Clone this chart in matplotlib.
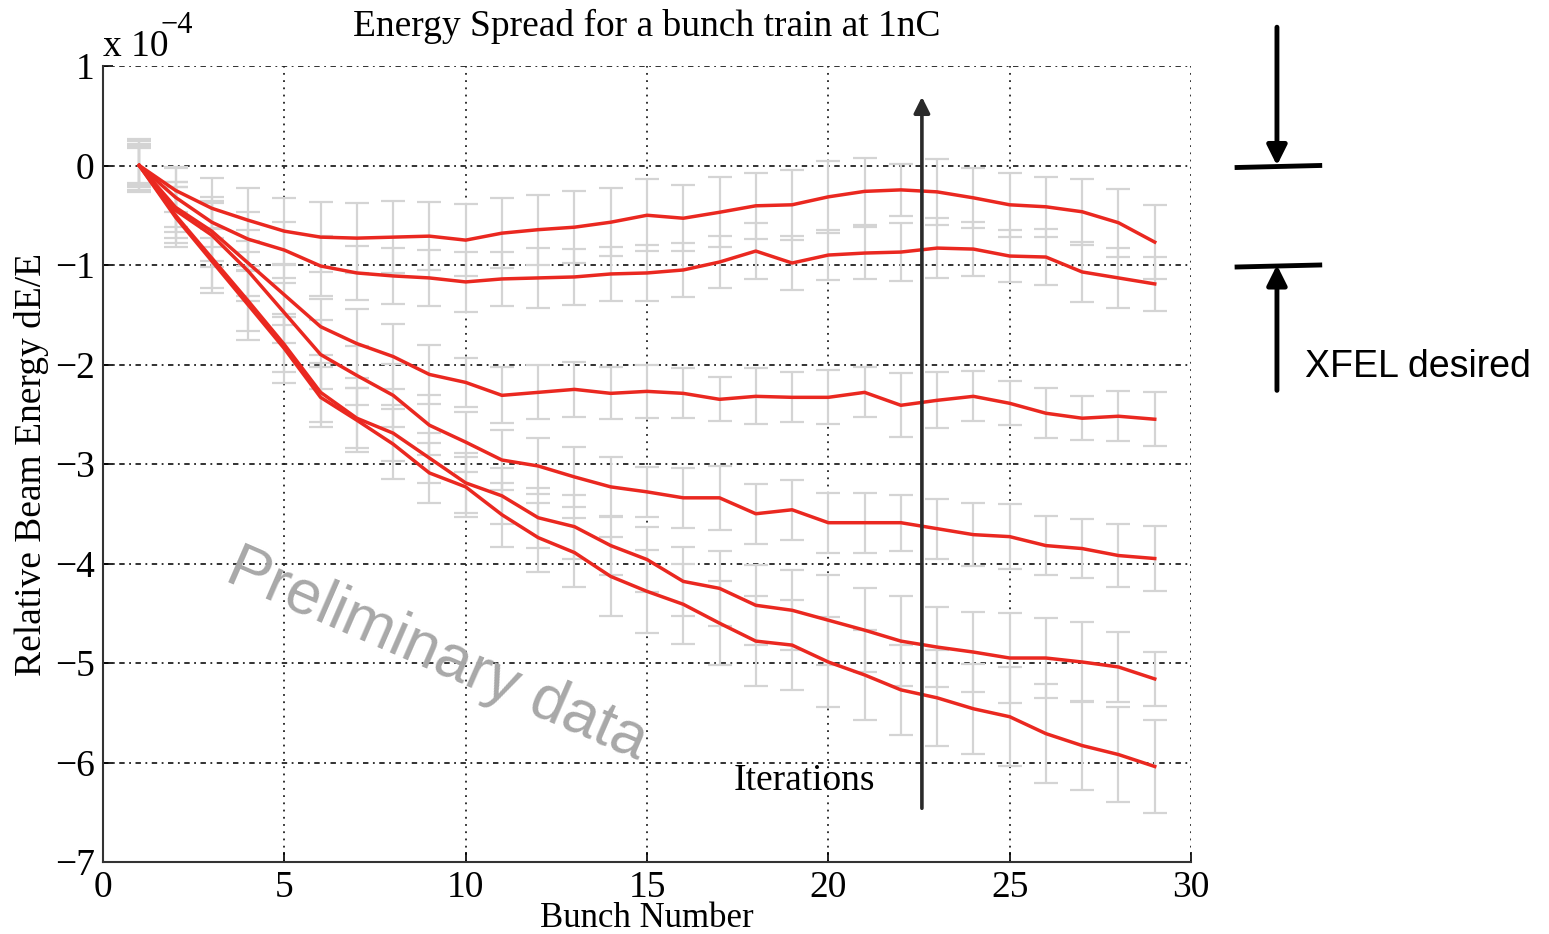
import numpy as np
import matplotlib
matplotlib.use("Agg")
import matplotlib.pyplot as plt

plt.rcParams['font.family'] = ['Liberation Serif', 'DejaVu Serif']

# bunch number along the train
bunch = np.arange(1, 30)

# relative energy deviation (x 1e-4), one curve per iteration (last iteration first)
it6 = [0, -0.25, -0.43, -0.55, -0.66, -0.72, -0.73, -0.72, -0.71, -0.75, -0.68, -0.645, -0.62, -0.57, -0.50,
       -0.53, -0.47, -0.405, -0.395, -0.315, -0.26, -0.245, -0.265, -0.325, -0.395, -0.415, -0.465, -0.575, -0.77]
it5 = [0, -0.32, -0.57, -0.74, -0.85, -1.01, -1.08, -1.11, -1.13, -1.17, -1.14, -1.13, -1.12, -1.09, -1.08,
       -1.05, -0.97, -0.86, -0.98, -0.90, -0.88, -0.87, -0.83, -0.84, -0.91, -0.92, -1.07, -1.13, -1.19]
it4 = [0, -0.42, -0.66, -0.98, -1.30, -1.62, -1.79, -1.92, -2.10, -2.18, -2.31, -2.28, -2.25, -2.29, -2.27,
       -2.29, -2.35, -2.32, -2.33, -2.33, -2.28, -2.41, -2.36, -2.32, -2.39, -2.49, -2.54, -2.52, -2.55]
it3 = [0, -0.45, -0.70, -1.06, -1.48, -1.90, -2.11, -2.31, -2.61, -2.78, -2.96, -3.02, -3.13, -3.23, -3.28,
       -3.34, -3.34, -3.50, -3.46, -3.59, -3.59, -3.59, -3.65, -3.71, -3.73, -3.82, -3.85, -3.92, -3.95]
it2 = [0, -0.50, -0.93, -1.36, -1.80, -2.28, -2.54, -2.69, -2.94, -3.19, -3.32, -3.54, -3.63, -3.82, -3.96,
       -4.18, -4.25, -4.42, -4.47, -4.57, -4.67, -4.78, -4.84, -4.89, -4.95, -4.95, -4.99, -5.04, -5.16]
it1 = [0, -0.52, -0.96, -1.40, -1.84, -2.33, -2.56, -2.80, -3.09, -3.23, -3.51, -3.74, -3.89, -4.13, -4.28,
       -4.41, -4.60, -4.78, -4.82, -4.99, -5.12, -5.27, -5.35, -5.46, -5.54, -5.71, -5.83, -5.92, -6.04]

# rms spread per bunch (x 1e-4)
err6 = [0.27, 0.22, 0.30, 0.32, 0.33, 0.35, 0.35, 0.36, 0.34, 0.36, 0.35, 0.35, 0.36, 0.34, 0.36,
        0.33, 0.35, 0.33, 0.35, 0.36, 0.34, 0.26, 0.33, 0.30, 0.32, 0.30, 0.33, 0.34, 0.37]
err5 = [0.22, 0.30, 0.25, 0.27, 0.28, 0.30, 0.27, 0.28, 0.28, 0.30, 0.27, 0.30, 0.28, 0.27, 0.28,
        0.27, 0.26, 0.28, 0.27, 0.25, 0.26, 0.29, 0.30, 0.27, 0.26, 0.28, 0.30, 0.30, 0.27]
err4 = [0.18, 0.25, 0.30, 0.33, 0.30, 0.28, 0.35, 0.33, 0.30, 0.25, 0.28, 0.27, 0.28, 0.26, 0.27,
        0.25, 0.22, 0.28, 0.25, 0.27, 0.25, 0.32, 0.28, 0.25, 0.22, 0.25, 0.22, 0.25, 0.27]
err3 = [0.20, 0.28, 0.32, 0.30, 0.30, 0.35, 0.30, 0.32, 0.30, 0.30, 0.30, 0.28, 0.30, 0.30, 0.25,
        0.30, 0.32, 0.30, 0.30, 0.30, 0.30, 0.28, 0.30, 0.32, 0.33, 0.30, 0.30, 0.32, 0.33]
err2 = [0.20, 0.28, 0.30, 0.30, 0.28, 0.30, 0.30, 0.28, 0.25, 0.30, 0.28, 0.30, 0.32, 0.30, 0.33,
        0.35, 0.38, 0.40, 0.40, 0.45, 0.42, 0.45, 0.40, 0.40, 0.45, 0.40, 0.40, 0.35, 0.27]
err1 = [0.25, 0.30, 0.32, 0.35, 0.35, 0.30, 0.32, 0.35, 0.30, 0.30, 0.32, 0.35, 0.35, 0.40, 0.42,
        0.40, 0.42, 0.45, 0.45, 0.45, 0.45, 0.45, 0.48, 0.45, 0.50, 0.50, 0.45, 0.48, 0.47]

curves = [it1, it2, it3, it4, it5, it6]
errors = [err1, err2, err3, err4, err5, err6]

fig = plt.figure(figsize=(15.49, 9.34), dpi=100)
ax = fig.add_axes([103/1549, 72/934, 1088/1549, 796/934])

# grey error bars first, red curves on top
for y, e in zip(curves, errors):
    ax.errorbar(bunch, y, yerr=e, fmt='none', ecolor='#d4d4d4', elinewidth=1.6,
                capsize=8.5, capthick=1.6, zorder=2)
for y in curves:
    ax.plot(bunch, y, color='#ea2820', lw=2.5, zorder=3)

ax.set_xlim(0, 30)
ax.set_ylim(-7, 1)
ax.set_xticks(range(0, 31, 5))
ax.set_yticks(range(-7, 2))
ax.tick_params(direction='in', length=7, width=1.2, labelsize=27, pad=6)
for s in ['top', 'right']:
    ax.spines[s].set_visible(False)
for s in ['left', 'bottom']:
    ax.spines[s].set_linewidth(1.5)
    ax.spines[s].set_color('#333333')

ax.yaxis.grid(True, color='#222222', lw=1.3, linestyle=(0, (3, 2.5, 1, 2.5)), zorder=1)
ax.xaxis.grid(True, color='#222222', lw=1.3, linestyle=(0, (1, 3)), zorder=1)

ax.set_xlabel('Bunch Number', fontsize=25, labelpad=-2)
ax.set_ylabel('Relative Beam Energy dE/E', fontsize=27, labelpad=4)
ax.text(0.0, 1.003, 'x 10', transform=ax.transAxes, fontsize=27, ha='left', va='bottom')
ax.text(0.053, 1.033, '\u22124', transform=ax.transAxes, fontsize=22, ha='left', va='bottom')
fig.text(647/1549, 1 - 26/934, 'Energy Spread for a bunch train at 1nC', fontsize=27,
         ha='center', va='center')

# iterations arrow
ax.annotate('', xy=(22.58, 0.69), xytext=(22.58, -6.46),
            arrowprops=dict(arrowstyle='-|>', lw=2.6, color='#2a2a2a', mutation_scale=24,
                            shrinkA=0, shrinkB=0), zorder=4)
ax.text(19.35, -6.18, 'Iterations', fontsize=27, ha='center', va='center', zorder=4)

ax.text(9.2, -4.92, 'Preliminary data', family='Liberation Sans', fontsize=45, color='#a8a8a8',
        rotation=-23.5, ha='center', va='center', zorder=5)

# XFEL tolerance band between 0 and -1
ax.annotate('', xy=(32.37, 0.0), xytext=(32.37, 1.39), annotation_clip=False,
            arrowprops=dict(arrowstyle='-|>', lw=3.5, color='k', mutation_scale=30,
                            shrinkA=0, shrinkB=0))
ax.annotate('', xy=(32.37, -1.0), xytext=(32.37, -2.26), annotation_clip=False,
            arrowprops=dict(arrowstyle='-|>', lw=3.5, color='k', mutation_scale=30,
                            shrinkA=0, shrinkB=0))
ax.plot([31.27, 33.55], [-0.02, 0.0], color='k', lw=3.5, clip_on=False)
ax.plot([31.27, 33.55], [-1.02, -1.0], color='k', lw=3.5, clip_on=False)
ax.text(33.14, -2.03, 'XFEL desired', family='Liberation Sans', fontsize=27,
        ha='left', va='center')

fig.savefig('out.png', dpi=100)
